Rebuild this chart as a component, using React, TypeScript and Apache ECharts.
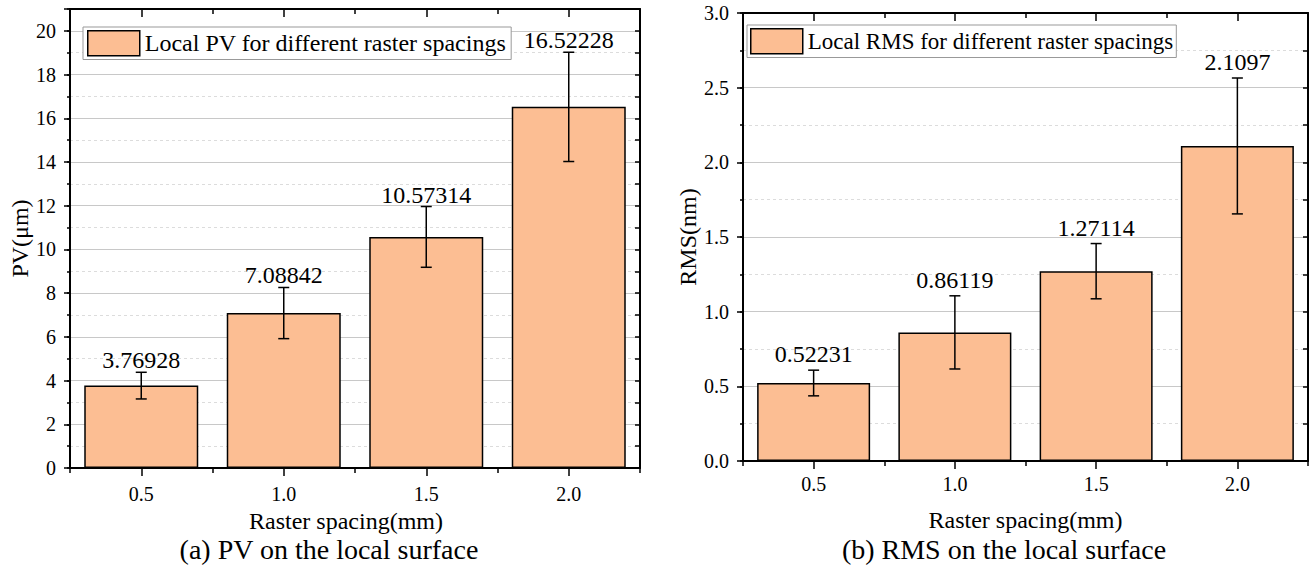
import React, { useEffect, useRef } from "react";
import * as echarts from "echarts";

const FONT = "Liberation Serif, Times New Roman, serif";

const categories = ["0.5", "1.0", "1.5", "2.0"];

const pvValues = [3.76928, 7.08842, 10.57314, 16.52228];
const pvErrors = [0.61, 1.17, 1.39, 2.5];

const rmsValues = [0.52231, 0.86119, 1.27114, 2.1097];
const rmsErrors = [0.086, 0.245, 0.185, 0.455];

const pvLegend = "Local PV for different raster spacings";
const rmsLegend = "Local RMS for different raster spacings";

const pvYTicks = { min: 0, max: 21, major: 2, minor: 1 };
const rmsYTicks = { min: 0, max: 3, major: 0.5, minor: 0.25 };

const BAR_COLOR = "#FCBE93";

type PanelCfg = {
  gi: number;
  values: number[];
  errors: number[];
  legendName: string;
  yName: string;
  yTicks: { min: number; max: number; major: number; minor: number };
  yFmt: (v: number) => string;
  yNameGap: number;
  xLabelMargin: number;
  xNameGap: number;
  xNamePad: number[];
  labelGap: number;
};

function makePanel(c: PanelCfg) {
  const xb = c.gi * 4;
  const yb = c.gi * 3;
  const black = { color: "#000", width: 2 };
  const tickLine = { color: "#000", width: 1.5 };
  const xAxes = [
    {
      type: "category",
      gridIndex: c.gi,
      position: "bottom",
      data: categories,
      boundaryGap: true,
      axisLine: { show: true, onZero: false, lineStyle: black },
      axisTick: { show: true, length: 5, alignWithLabel: false, lineStyle: tickLine },
      axisLabel: { fontSize: 20, color: "#000", fontFamily: FONT, margin: c.xLabelMargin },
      splitLine: { show: false },
      name: "Raster spacing(mm)",
      nameLocation: "middle",
      nameGap: c.xNameGap,
      nameTextStyle: { fontSize: 24, color: "#000", fontFamily: FONT, padding: c.xNamePad },
    },
    {
      type: "category",
      gridIndex: c.gi,
      position: "bottom",
      data: categories,
      axisLine: { show: false, onZero: false },
      axisTick: { show: true, length: 8, alignWithLabel: true, lineStyle: tickLine },
      axisLabel: { show: false },
      splitLine: { show: false },
    },
    {
      type: "category",
      gridIndex: c.gi,
      position: "top",
      data: categories,
      axisLine: { show: true, onZero: false, lineStyle: black },
      axisTick: { show: true, inside: true, length: 5, lineStyle: tickLine },
      axisLabel: { show: false },
      splitLine: { show: false },
    },
    {
      type: "category",
      gridIndex: c.gi,
      position: "top",
      data: categories,
      axisLine: { show: false, onZero: false },
      axisTick: { show: true, inside: true, length: 8, alignWithLabel: true, lineStyle: tickLine },
      axisLabel: { show: false },
      splitLine: { show: false },
    },
  ];
  const yAxes = [
    {
      type: "value",
      gridIndex: c.gi,
      position: "left",
      min: c.yTicks.min,
      max: c.yTicks.max,
      interval: c.yTicks.major,
      axisLine: { show: true, onZero: false, lineStyle: black },
      axisTick: { show: true, length: 6, lineStyle: tickLine },
      axisLabel: {
        fontSize: 20,
        color: "#000",
        fontFamily: FONT,
        margin: 14,
        formatter: (v: number) => {
          const r = Math.round((v / c.yTicks.major) * 1000) / 1000;
          return Number.isInteger(r) ? c.yFmt(v) : "";
        },
      },
      splitLine: { show: true, lineStyle: { color: "#c8c8c8", width: 1 } },
      name: c.yName,
      nameLocation: "middle",
      nameGap: c.yNameGap,
      nameTextStyle: { fontSize: 24, color: "#000", fontFamily: FONT },
    },
    {
      type: "value",
      gridIndex: c.gi,
      position: "left",
      min: c.yTicks.min,
      max: c.yTicks.max,
      interval: c.yTicks.minor,
      axisLine: { show: false, onZero: false },
      axisTick: { show: true, length: 3, lineStyle: tickLine },
      axisLabel: { show: false },
      splitLine: {
        show: true,
        lineStyle: { color: ["rgba(0,0,0,0)", "#dcdcdc"], type: [3, 3], width: 1 },
      },
    },
    {
      type: "value",
      gridIndex: c.gi,
      position: "right",
      min: c.yTicks.min,
      max: c.yTicks.max,
      interval: c.yTicks.minor,
      axisLine: { show: true, onZero: false, lineStyle: black },
      axisTick: { show: true, inside: true, length: 5, lineStyle: tickLine },
      axisLabel: { show: false },
      splitLine: { show: false },
    },
  ];
  const errData = c.values.map((v, i) => [i, v, c.errors[i]]);
  const series = [
    {
      type: "bar",
      name: c.legendName,
      xAxisIndex: xb,
      yAxisIndex: yb,
      data: c.values,
      barWidth: "80%",
      itemStyle: { color: BAR_COLOR, borderColor: "#000", borderWidth: 1.5 },
      z: 2,
    },
    {
      type: "custom",
      name: c.legendName + " error",
      xAxisIndex: xb,
      yAxisIndex: yb,
      data: errData,
      encode: { x: 0, y: 1 },
      z: 5,
      renderItem: (params: any, api: any) => {
        const idx = api.value(0);
        const v = api.value(1);
        const e = api.value(2);
        const top = api.coord([idx, v + e]);
        const bot = api.coord([idx, v - e]);
        const cw = 5.5;
        const st = { stroke: "#000", lineWidth: 1.5 };
        return {
          type: "group",
          children: [
            { type: "line", shape: { x1: top[0], y1: top[1], x2: bot[0], y2: bot[1] }, style: st },
            { type: "line", shape: { x1: top[0] - cw, y1: top[1], x2: top[0] + cw, y2: top[1] }, style: st },
            { type: "line", shape: { x1: bot[0] - cw, y1: bot[1], x2: bot[0] + cw, y2: bot[1] }, style: st },
            {
              type: "text",
              x: top[0],
              y: top[1] - c.labelGap,
              style: {
                text: String(c.values[params.dataIndex]),
                fontSize: 24,
                fontFamily: FONT,
                fill: "#000",
                align: "center",
                verticalAlign: "bottom",
              },
            },
          ],
        };
      },
    },
  ];
  return { xAxes, yAxes, series };
}

export default function App() {
  const ref = useRef<HTMLDivElement>(null);
  useEffect(() => {
    document.body.style.margin = "0";
    if (!ref.current) return;
    const chart = echarts.init(ref.current, null, { renderer: "svg" });
    const p0 = makePanel({
      gi: 0,
      values: pvValues,
      errors: pvErrors,
      legendName: pvLegend,
      yName: "PV(μm)",
      yTicks: pvYTicks,
      yFmt: (v) => String(v),
      yNameGap: 36,
      xLabelMargin: 16,
      xNameGap: 40,
      xNamePad: [0, 18, 0, 0],
      labelGap: 0,
    });
    const p1 = makePanel({
      gi: 1,
      values: rmsValues,
      errors: rmsErrors,
      legendName: rmsLegend,
      yName: "RMS(nm)",
      yTicks: rmsYTicks,
      yFmt: (v) => v.toFixed(1),
      yNameGap: 43,
      xLabelMargin: 13,
      xNameGap: 47,
      xNamePad: [0, 0, 0, 0],
      labelGap: 4,
    });
    const legendCommon = {
      orient: "horizontal",
      itemWidth: 52,
      itemHeight: 25,
      borderColor: "#999",
      borderWidth: 1,
      backgroundColor: "#fff",
      icon: "rect",
      itemStyle: { borderColor: "#000", borderWidth: 1.5, color: BAR_COLOR },
      selectedMode: false,
    };
    chart.setOption({
      animation: false,
      backgroundColor: "#fff",
      textStyle: { fontFamily: FONT },
      grid: [
        { left: 70, top: 9, width: 570, height: 459, containLabel: false },
        { left: 743, top: 13, width: 565, height: 448, containLabel: false },
      ],
      legend: [
        {
          ...legendCommon,
          data: [pvLegend],
          left: 83,
          top: 27,
          padding: [3, 5, 3, 4],
          textStyle: { fontSize: 24, color: "#000", fontFamily: FONT },
        },
        {
          ...legendCommon,
          data: [rmsLegend],
          left: 747,
          top: 25,
          padding: [3, 3, 3, 3],
          textStyle: { fontSize: 23, color: "#000", fontFamily: FONT },
        },
      ],
      xAxis: [...p0.xAxes, ...p1.xAxes],
      yAxis: [...p0.yAxes, ...p1.yAxes],
      series: [...p0.series, ...p1.series],
      graphic: [
        {
          type: "text",
          x: 329,
          y: 549,
          style: {
            text: "(a) PV on the local surface",
            fontSize: 28,
            fontFamily: FONT,
            fill: "#000",
            align: "center",
            verticalAlign: "middle",
          },
        },
        {
          type: "text",
          x: 1004,
          y: 549,
          style: {
            text: "(b) RMS on the local surface",
            fontSize: 28,
            fontFamily: FONT,
            fill: "#000",
            align: "center",
            verticalAlign: "middle",
          },
        },
      ],
    });
    return () => chart.dispose();
  }, []);
  return (
    <div
      ref={ref}
      style={{ width: 1316, height: 575, position: "absolute", left: 0, top: 0 }}
    />
  );
}
